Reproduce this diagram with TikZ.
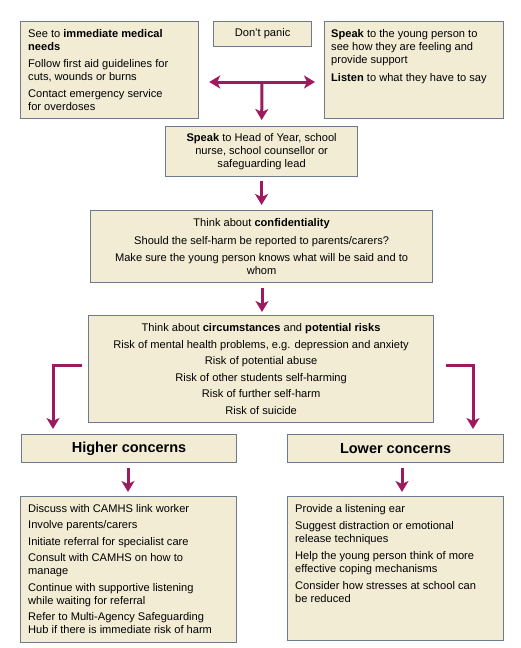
\documentclass[tikz,border=0pt]{standalone}
\usepackage{fontspec}
\setmainfont{Liberation Sans}
\usetikzlibrary{arrows.meta}
\definecolor{boxfill}{HTML}{F3ECD5}
\definecolor{boxline}{HTML}{6B7B8C}
\definecolor{arrowc}{HTML}{9E1A5E}
\begin{document}
\begin{tikzpicture}[x=1pt,y=-1pt,
  box/.style={draw=boxline,line width=1.2pt,fill=boxfill,inner sep=0pt,anchor=north west},
  txt/.style={inner sep=0pt,font=\fontsize{11.1}{13}\selectfont},
  txtl/.style={txt,align=left,anchor=north west},
  txtc/.style={txt,align=center},
  head/.style={inner sep=0pt,font=\fontsize{14.5}{16}\selectfont\bfseries},
  arr/.style={draw=arrowc,line width=3pt,-{Stealth[length=11pt,width=13pt,inset=3pt]}},
  arr2/.style={draw=arrowc,line width=3pt,{Stealth[length=11pt,width=13pt,inset=3pt]}-{Stealth[length=11pt,width=13pt,inset=3pt]}}
]
\useasboundingbox[fill=white] (0,0) rectangle (520,648);
% boxes
\node[box,minimum width=178pt,minimum height=97pt] (tl) at (20,21) {};
\node[box,minimum width=98pt,minimum height=25pt] (dp) at (213,21) {};
\node[box,minimum width=179pt,minimum height=97pt] (tr) at (324,21) {};
\node[box,minimum width=192pt,minimum height=50pt] (sp) at (165,126) {};
\node[box,minimum width=342pt,minimum height=72pt] (cf) at (90,210) {};
\node[box,minimum width=345pt,minimum height=107pt] (ci) at (88,315) {};
\node[box,minimum width=215pt,minimum height=28pt] (hc) at (21,434) {};
\node[box,minimum width=216pt,minimum height=28pt] (lc) at (287,434) {};
\node[box,minimum width=216pt,minimum height=146pt] (hb) at (20,496) {};
\node[box,minimum width=216pt,minimum height=144pt] (lb) at (287,496) {};
% texts
\node[txtl] (tlt) at (28,29) {See to \textbf{immediate medical}\\ \textbf{needs}\\[4pt]
Follow first aid guidelines for\\ cuts, wounds or burns\\[4pt]
Contact emergency service\\ for overdoses};
\node[txtc] (dpt) at (dp.center) {Don’t panic};
\node[txtl] (trt) at (331,29) {\textbf{Speak} to the young person to\\ see how they are feeling and\\ provide support\\[5pt]
\textbf{Listen} to what they have to say};
\node[txtc] (spt) at (sp.center) {\textbf{Speak} to Head of Year, school\\ nurse, school counsellor or\\ safeguarding lead};
\node[txtc] (cft) at (cf.center) {Think about \textbf{confidentiality}\\[5pt]
Should the self-harm be reported to parents/carers?\\[4pt]
Make sure the young person knows what will be said and to\\ whom};
\node[txtc,font=\fontsize{11.1}{16.6}\selectfont] (cit) at (ci.center) {Think about \textbf{circumstances} and \textbf{potential risks}\\
Risk of mental health problems, e.g. depression and anxiety\\
Risk of potential abuse\\
Risk of other students self-harming\\
Risk of further self-harm\\
Risk of suicide};
\node[head] (hct) at (hc.center) {Higher concerns};
\node[head] (lct) at (lc.center) {Lower concerns};
\node[txtl] (hbt) at (28,504) {Discuss with CAMHS link worker\\[3.5pt]
Involve parents/carers\\[3.5pt]
Initiate referral for specialist care\\[3.5pt]
Consult with CAMHS on how to\\ manage\\[3.5pt]
Continue with supportive listening\\ while waiting for referral\\[3.5pt]
Refer to Multi-Agency Safeguarding\\ Hub if there is immediate risk of harm};
\node[txtl] (lbt) at (295,504) {Provide a listening ear\\[4pt]
Suggest distraction or emotional\\ release techniques\\[4pt]
Help the young person think of more\\ effective coping mechanisms\\[4pt]
Consider how stresses at school can\\ be reduced};
% connectors
\coordinate (T) at (262,82);
\draw[arr2] (tl.east |- T) ++(10,0) -- (315,82);
\draw[arr,shorten >=6pt] (T) -- (sp.north);
\draw[arr,shorten <=4pt,shorten >=5pt] (sp.south) -- (cf.north -| sp.south);
\draw[arr,shorten <=5pt,shorten >=3pt] (cf.south -| 262,0) -- (ci.north -| 262,0);
\coordinate (L) at (53,365);
\coordinate (R) at (473,365);
\draw[arr,shorten >=5pt] (ci.west |- L) ++(-6,0) -- (L) -- (hc.north -| L);
\draw[arr,shorten >=5pt] (ci.east |- R) ++(12,0) -- (R) -- (lc.north -| R);
\draw[arr,shorten <=5pt,shorten >=4pt] (hc.south -| 128,0) -- (hb.north -| 128,0);
\draw[arr,shorten <=5pt,shorten >=4pt] (lc.south -| 402,0) -- (lb.north -| 402,0);
\end{tikzpicture}
\end{document}
